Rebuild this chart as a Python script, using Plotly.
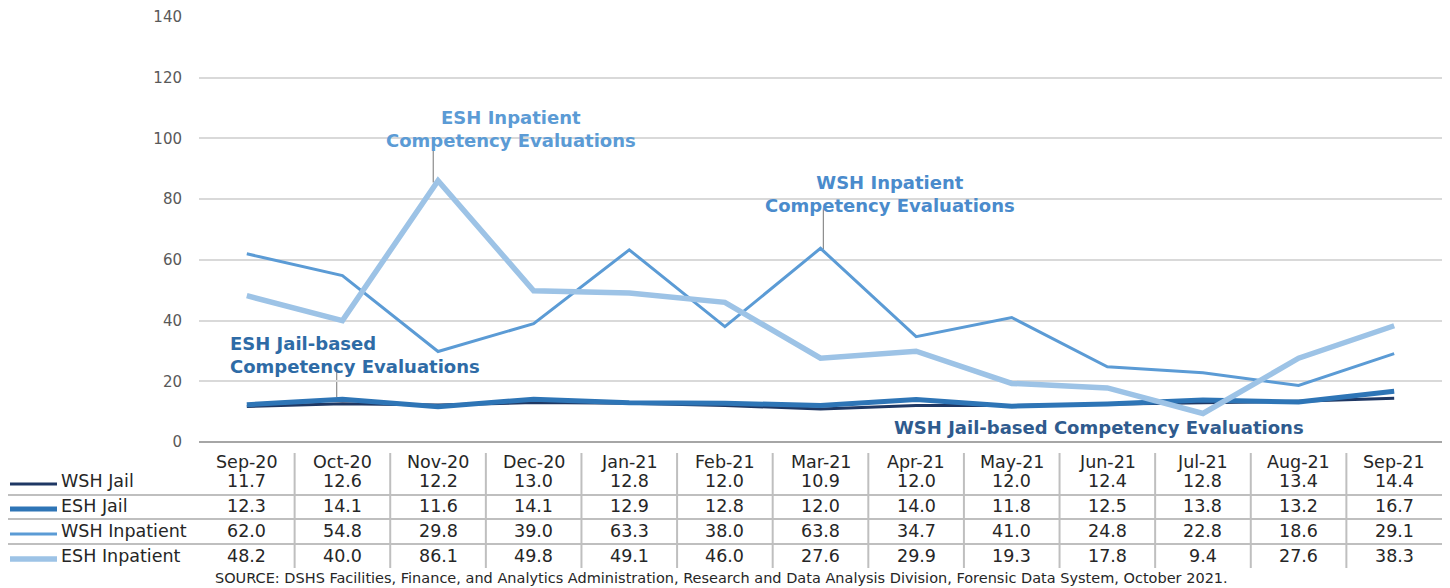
import plotly.graph_objects as go

months = ["Sep-20", "Oct-20", "Nov-20", "Dec-20", "Jan-21", "Feb-21", "Mar-21",
          "Apr-21", "May-21", "Jun-21", "Jul-21", "Aug-21", "Sep-21"]
wsh_jail = [11.7, 12.6, 12.2, 13.0, 12.8, 12.0, 10.9, 12.0, 12.0, 12.4, 12.8, 13.4, 14.4]
esh_jail = [12.3, 14.1, 11.6, 14.1, 12.9, 12.8, 12.0, 14.0, 11.8, 12.5, 13.8, 13.2, 16.7]
wsh_inpatient = [62.0, 54.8, 29.8, 39.0, 63.3, 38.0, 63.8, 34.7, 41.0, 24.8, 22.8, 18.6, 29.1]
esh_inpatient = [48.2, 40.0, 86.1, 49.8, 49.1, 46.0, 27.6, 29.9, 19.3, 17.8, 9.4, 27.6, 38.3]
series_names = ["WSH Jail", "ESH Jail", "WSH Inpatient", "ESH Inpatient"]
y_ticks = [0, 20, 40, 60, 80, 100, 120, 140]

series = [wsh_jail, esh_jail, wsh_inpatient, esh_inpatient]
colors = ["#1F3864", "#2E75B6", "#5B9BD5", "#9DC3E6"]
widths = [3, 5, 3, 5.5]

FONT = "DejaVu Sans"
TXT = "#262626"
fig = go.Figure()
for name, vals, c, w in zip(series_names, series, colors, widths):
    fig.add_trace(go.Scatter(x=months, y=vals, mode="lines", name=name,
                             line=dict(color=c, width=w), showlegend=False))

# page has an 8px body margin; figure placed at (8, 8)
OFF = 8
W, H = 1450 - OFF, 588 - OFF
PL, PR, PT, PB = 199, 1442, 17, 442  # plot area in page pixels
L, R, T, B = PL - OFF, W + OFF - PR, PT - OFF, H + OFF - PB
plot_h = PB - PT
plot_w = PR - PL

def py(pix):
    return (PB - pix) / plot_h

def px(pix):
    return (pix - PL) / plot_w

annotations = []
shapes = []

# table header
row_y = [481, 506, 531, 556]
for i, m in enumerate(months):
    annotations.append(dict(x=i, y=py(462), xref="x", yref="paper", text=m,
                            xanchor="center", yanchor="middle", showarrow=False,
                            font=dict(family=FONT, size=17.5, color=TXT)))
for r, (name, vals, c, w) in enumerate(zip(series_names, series, colors, widths)):
    for i, v in enumerate(vals):
        annotations.append(dict(x=i, y=py(row_y[r]), xref="x", yref="paper",
                                text=f"{v:.1f}", xanchor="center", yanchor="middle",
                                showarrow=False,
                                font=dict(family=FONT, size=17.5, color=TXT)))
    annotations.append(dict(x=px(59), y=py(row_y[r]), xref="paper", yref="paper",
                            text=name, xanchor="left", yanchor="middle", showarrow=False,
                            font=dict(family=FONT, size=17.5, color=TXT)))
    shapes.append(dict(type="line", xref="paper", yref="paper",
                       x0=px(10), x1=px(57), y0=py(row_y[r] + 3), y1=py(row_y[r] + 3),
                       line=dict(color=c, width=w)))

# table grid
for yy in [495, 519, 544]:
    shapes.append(dict(type="line", xref="paper", yref="paper", x0=px(8), x1=1,
                       y0=py(yy), y1=py(yy), line=dict(color="#BFBFBF", width=2)))
for i in range(len(months) - 1):
    shapes.append(dict(type="line", xref="x", yref="paper", x0=i + 0.5, x1=i + 0.5,
                       y0=py(453), y1=py(568), line=dict(color="#BFBFBF", width=2)))

# source
annotations.append(dict(x=px(721), y=py(578), xref="paper", yref="paper",
                        xanchor="center", yanchor="middle",
                        text="SOURCE: DSHS Facilities, Finance, and Analytics Administration, Research and Data Analysis Division, Forensic Data System, October 2021.",
                        showarrow=False, font=dict(family=FONT, size=14.5, color=TXT)))

# series labels
LBL = 18
annotations += [
    dict(x=2.76, y=103, xref="x", yref="y", text="ESH Inpatient<br>Competency Evaluations",
         showarrow=False, font=dict(family=FONT, size=LBL, color="#5B9BD5", weight="bold")),
    dict(x=6.73, y=81.7, xref="x", yref="y", text="WSH Inpatient<br>Competency Evaluations",
         showarrow=False, font=dict(family=FONT, size=LBL, color="#4A8BCC", weight="bold")),
    dict(x=-0.2, y=28.5, xref="x", yref="y", text="ESH Jail-based<br>Competency Evaluations",
         xanchor="left", align="left",
         showarrow=False, font=dict(family=FONT, size=LBL, color="#2E6BA6", weight="bold")),
    dict(x=8.91, y=4.9, xref="x", yref="y", text="WSH Jail-based Competency Evaluations",
         showarrow=False, font=dict(family=FONT, size=LBL, color="#2F5B8E", weight="bold")),
]
for x, y0, y1 in [(1.95, 85.5, 99.5), (6.03, 63.6, 77.0), (0.94, 14.8, 23.7)]:
    shapes.append(dict(type="line", xref="x", yref="y", x0=x, x1=x, y0=y0, y1=y1,
                       line=dict(color="#8C8C8C", width=1.2), layer="below"))

fig.update_layout(
    width=W, height=H,
    margin=dict(l=L, r=R, t=T, b=B, autoexpand=False),
    plot_bgcolor="white", paper_bgcolor="white",
    font=dict(family=FONT),
    annotations=annotations, shapes=shapes,
    xaxis=dict(showticklabels=False, showgrid=False, zeroline=False, ticks="",
               range=[-0.5, len(months) - 0.5], fixedrange=True),
    yaxis=dict(range=[0, 140], tickvals=y_ticks, showgrid=True, gridcolor="#D9D9D9",
               gridwidth=1.5, zeroline=True, zerolinecolor="#A6A6A6", zerolinewidth=2,
               ticks="", ticklabelstandoff=16,
               tickfont=dict(family=FONT, size=15, color="#595959")),
)
fig.write_html("out.html")
